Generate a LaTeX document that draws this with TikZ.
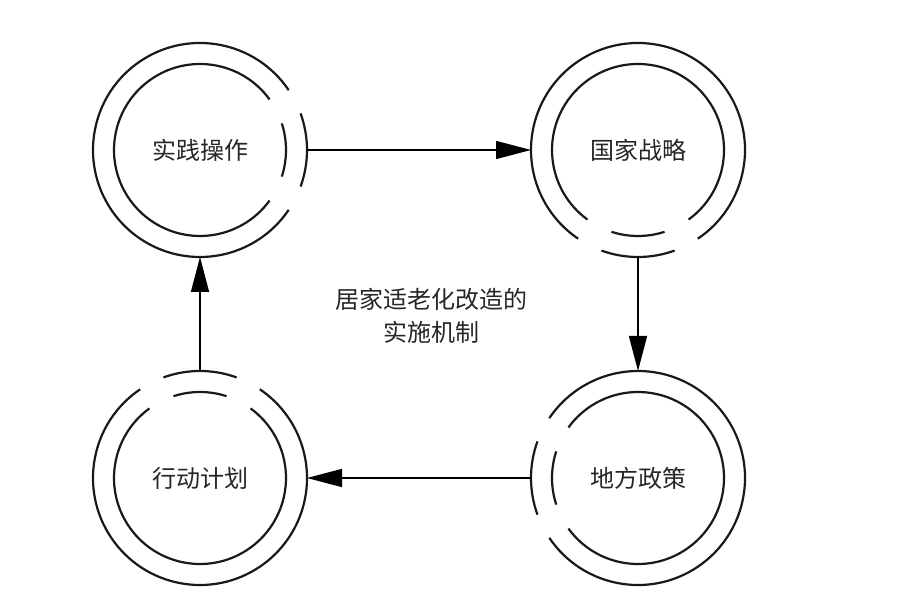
\documentclass[tikz,border=0pt]{standalone}
\usepackage{fontspec}
\setmainfont{Noto Sans CJK SC}
\usetikzlibrary{arrows.meta}
\tikzset{
  stage/.style={circle,minimum size=214pt,inner sep=0pt,outer sep=0pt,font=\fontsize{24}{28}\selectfont,text=black!85},
  ring/.style={line width=2.2pt,black!90},
  flow/.style={line width=1.5pt,-{Triangle[length=35pt,width=18pt]}}
}
\begin{document}
\begin{tikzpicture}[x=1pt,y=1pt]
\useasboundingbox (0,0) rectangle (909,605);
\node[stage] (shijian) at (200,455) {实践操作};
\node[stage] (guojia) at (638,455) {国家战略};
\node[stage] (difang) at (638,127) {地方政策};
\node[stage] (xingdong) at (200,127) {行动计划};
\node[align=center,font=\fontsize{24}{33}\selectfont,text=black!85] (jizhi) at (431,289) {居家适老化改造的\\实施机制};

\foreach \n/\a in {shijian/0,guojia/-90,difang/180,xingdong/90}{
  \draw[ring] (\n.center) ++(\a+34:107pt) arc[start angle=\a+34,delta angle=292,radius=107pt];
  \draw[ring] (\n.center) ++(\a-20:107pt) arc[start angle=\a-20,delta angle=40,radius=107pt];
  \draw[ring] (\n.center) ++(\a+36:86pt) arc[start angle=\a+36,delta angle=288,radius=86pt];
  \draw[ring] (\n.center) ++(\a-18:86pt) arc[start angle=\a-18,delta angle=36,radius=86pt];
}

\draw[flow] (shijian.east) -- (guojia.west);
\draw[flow] (guojia.south) -- (difang.north);
\draw[flow] (difang.west) -- (xingdong.east);
\draw[flow] (xingdong.north) -- (shijian.south);
\end{tikzpicture}
\end{document}
